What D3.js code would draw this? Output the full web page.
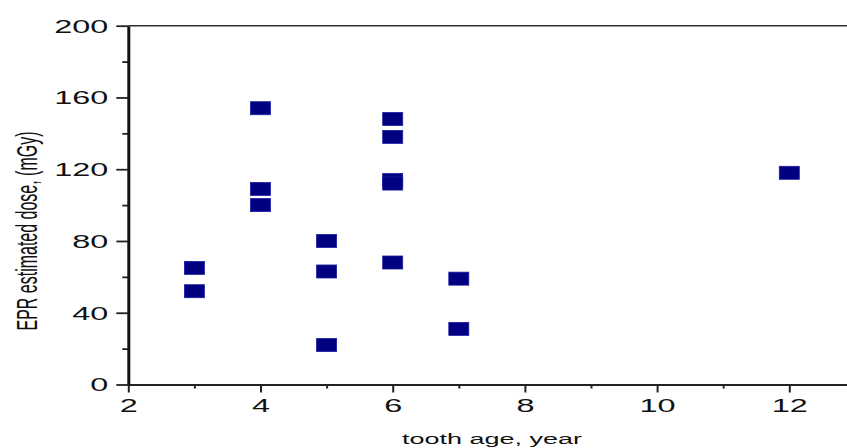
<!DOCTYPE html>
<html lang="en">
<meta charset="utf-8">
<head>
    <script src='https://d3js.org/d3.v7.min.js'></script>
    <style>
        body { margin: 0; background: #fff; }
        svg { display: block; }
    </style>
</head>
<body>
</body>

<script>
    var width = 847, height = 448;

    // data
    var ageYears = [3, 3, 4, 4, 4, 5, 5, 5, 6, 6, 6, 6, 6, 7, 7, 12];
    var doseMGy = [65, 52, 154, 109, 100, 80, 63, 22, 148, 138, 114, 112, 68, 59, 31, 118];
    var xMajorTicks = [2, 4, 6, 8, 10, 12];
    var xMinorTicks = [3, 5, 7, 9, 11, 13];
    var yMajorTicks = [0, 40, 80, 120, 160, 200];
    var yMinorTicks = [20, 60, 100, 140, 180];
    var xTitle = 'tooth age, year';
    var yTitle = 'EPR estimated dose, (mGy)';

    var stretch = 1.8; // the picture is widened, so is its text
    var font = '"Liberation Sans", Arial, sans-serif';

    var svg = d3.select('body').append('svg').attr('width', width).attr('height', height);

    var x = d3.scaleLinear().domain([2, 13]).range([128.3, 855.4]);
    var y = d3.scaleLinear().domain([0, 200]).range([384.5, 25.7]);

    // top frame line
    svg.append('line')
        .attr('x1', x(2)).attr('x2', width + 10)
        .attr('y1', y(200)).attr('y2', y(200))
        .attr('stroke', '#333').attr('stroke-width', 1.6);

    // x axis
    var gx = svg.append('g').attr('transform', 'translate(0,' + y(0) + ')');
    gx.append('g').call(d3.axisBottom(x).tickValues(xMinorTicks).tickSize(4).tickFormat(''))
        .call(function(g) { g.select('.domain').remove(); });
    gx.append('g').call(d3.axisBottom(x).tickValues(xMajorTicks).tickSize(8).tickSizeOuter(0).tickFormat(d3.format('d')));
    gx.selectAll('.domain').attr('stroke', '#222').attr('stroke-width', 2);
    gx.selectAll('.tick line').attr('stroke', '#222').attr('stroke-width', 2);
    gx.selectAll('.tick text')
        .attr('y', 28).attr('dy', 0)
        .attr('transform', 'scale(' + stretch + ',1)')
        .attr('fill', '#111')
        .style('font-family', font).style('font-size', '18px');

    // y axis
    var gy = svg.append('g').attr('transform', 'translate(' + x(2) + ',0)');
    gy.append('g').call(d3.axisLeft(y).tickValues(yMinorTicks).tickSize(6).tickFormat(''))
        .call(function(g) { g.select('.domain').remove(); });
    gy.append('g').call(d3.axisLeft(y).tickValues(yMajorTicks).tickSize(12).tickSizeOuter(0).tickFormat(d3.format('d')));
    gy.selectAll('.domain').attr('stroke', '#111').attr('stroke-width', 3);
    gy.selectAll('.tick line').attr('stroke', '#222').attr('stroke-width', 1.8);
    gy.selectAll('.tick text')
        .attr('x', -20 / stretch).attr('dy', '0.36em')
        .attr('transform', 'scale(' + stretch + ',1)')
        .attr('fill', '#111')
        .style('font-family', font).style('font-size', '18px');

    // axis titles
    svg.append('text')
        .attr('transform', 'translate(' + 492 + ',444) scale(' + stretch + ',1)')
        .attr('text-anchor', 'middle')
        .attr('fill', '#111')
        .style('font-family', font).style('font-size', '15px')
        .text(xTitle);

    svg.append('text')
        .attr('transform', 'translate(37,231) scale(' + stretch + ',1) rotate(-90)')
        .attr('text-anchor', 'middle')
        .attr('fill', '#111')
        .style('font-family', font).style('font-size', '16px')
        .text(yTitle);

    // square markers
    var points = d3.zip(ageYears, doseMGy);
    svg.append('g').selectAll('rect')
        .data(points)
        .join('rect')
        .attr('x', function(d) { return x(d[0]) - 10; })
        .attr('y', function(d) { return y(d[1]) - 6.5; })
        .attr('width', 20)
        .attr('height', 13)
        .attr('fill', '#000080')
        .attr('stroke', '#1c1ca0')
        .attr('stroke-width', 0.8);
</script>
